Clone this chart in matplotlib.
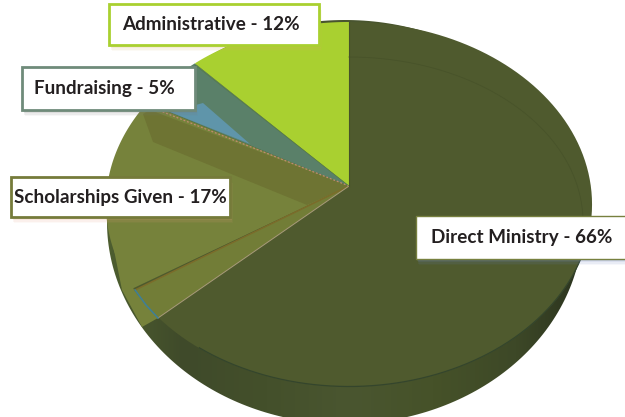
import numpy as np
import matplotlib
matplotlib.use("Agg")
import matplotlib.pyplot as plt
from matplotlib.patches import Polygon, Rectangle

categories = ["Direct Ministry", "Scholarships Given", "Fundraising", "Administrative"]
values = [66, 17, 5, 12]
top_colors = ["#4f5a2e", "#76823b", "#5a8069", "#a9d030"]
border_colors = ["#77803f", "#757b3a", "#6f8b7a", "#a9d030"]
shadow_colors = ["#6f86c0", "#e8a080", "#777777", "#d8b060"]
boxes = [(416, 216, 215, 43), (11, 177, 219, 40), (22, 67, 173, 43), (109, 4, 210, 41)]
text_x = [521.5, 120, 104, 210.5]

W, H = 625, 417
fig = plt.figure(figsize=(W / 100, H / 100), dpi=100)
ax = fig.add_axes([0, 0, 1, 1])
ax.set_xlim(0, W)
ax.set_ylim(H, 0)
ax.axis("off")

CX, CY, SX, SY, K = 349, 186, 241.8, 180.6, 0.101

def project(x, y):
    w = 1 + K * y
    return CX + SX * x / w, CY - SY * y / w

def sector(t1, t2):
    t = np.radians(np.linspace(t1, t2, 120))
    xs, ys = project(np.cos(t), np.sin(t))
    return np.column_stack([np.r_[CX, xs], np.r_[CY, ys]])

def ellipse(cx, cy, rx, ry, a1=0, a2=360):
    t = np.radians(np.linspace(a1, a2, 300))
    return np.column_stack([cx + rx * np.cos(t), cy + ry * np.sin(t)])

# side wall (silhouette below the top face)
wall = Polygon(ellipse(345, 222, 238, 202), closed=True, fc="none", ec="none")
ax.add_patch(wall)
cmap = matplotlib.colors.LinearSegmentedColormap.from_list(
    "wall", ["#4f6030", "#3f4a2a", "#44502b", "#4a5630", "#465229", "#3d4827", "#262e1c"])
im = ax.imshow(np.linspace(0, 1, 256)[None, :], extent=(100, 600, H, 0), cmap=cmap,
               aspect="auto", zorder=1, vmin=0, vmax=1)
im.set_clip_path(wall)
ax.set_xlim(0, W)
ax.set_ylim(H, 0)

# olive side piece below the scholarship band
ax.add_patch(Polygon([(112, 240), (135, 290), (158, 318), (142, 327), (122, 290)],
                     closed=True, fc="#76823b", ec="none", zorder=2))

# pie wedges: angles come from the pie call, then put in perspective
wedges, _ = ax.pie(values, startangle=90, counterclock=False, colors=top_colors,
                   center=(-1000, -1000), radius=1, frame=False)
ax.set_xlim(0, W)
ax.set_ylim(H, 0)
ax.set_aspect("auto")
for w, c in zip(wedges, top_colors):
    w.set_visible(False)
    ax.add_patch(Polygon(sector(w.theta1, w.theta2), closed=True, fc=c, ec="none", zorder=3))

# lighter band overlapping the large slice
ax.add_patch(Polygon([(349, 186), (135, 290), (146, 305), (158, 318)], closed=True,
                     fc="#727d37", ec="none", zorder=4))
# darker band inside the scholarships slice
ax.add_patch(Polygon([(349, 186), (150, 110), (143, 114), (153, 142), (307, 205)], closed=True,
                     fc="#6e7433", ec="none", zorder=4))
# blue piece in the fundraising slice
ax.add_patch(Polygon([(170, 112), (203, 103), (250, 144)], closed=True,
                     fc="#5f95aa", ec="none", zorder=4))
# slice divider lines
ax.plot([349, 135], [186, 290], color="#7b6c2a", lw=1.1, zorder=5)
ax.plot([349, 158], [186, 318], color="#a89a7a", lw=0.7, zorder=5)
ax.plot([349, 158], [186, 110], color="#c08a70", lw=0.9, ls=(0, (1.5, 1.5)), zorder=5)
ax.plot([349, 195], [186, 65], color="#567a4a", lw=0.5, zorder=5)
# rim lines
ax.plot([135, 146, 158], [290, 305, 318], color="#3d7f9a", lw=1.1, zorder=5)
arc = ellipse(349, 204, 243, 182.5, 10, 128)
ax.plot(arc[:, 0], arc[:, 1], color="#34452c", lw=0.9, zorder=5)
arc2 = ellipse(349, 222, 234, 165, -90, 0)
ax.plot(arc2[:, 0], arc2[:, 1], color="#48532a", lw=0.6, zorder=5)
ax.plot([349, 349], [22, 186], color="#46512a", lw=0.8, zorder=5)

# labels
for cat, val, box, bc, sc, tx in zip(categories, values, boxes, border_colors, shadow_colors, text_x):
    x, y, w, h = box
    for i, a in zip((6, 4.5, 3, 1.5), (0.06, 0.09, 0.12, 0.16)):
        ax.add_patch(Rectangle((x + i * 0.5, y + i), w, h, fc=sc, ec="none", alpha=a, zorder=6))
    lw = 1.0 if cat == "Direct Ministry" else 2.0
    ax.add_patch(Rectangle((x, y), w, h, fc="white", ec=bc, lw=lw, zorder=7))
    ax.text(tx, y + h / 2, f"{cat} - {val}%", ha="center", va="center", family="Lato",
            weight="bold", fontsize=13.6, color="#231f20", zorder=8)

fig.savefig("out.png", dpi=100)
